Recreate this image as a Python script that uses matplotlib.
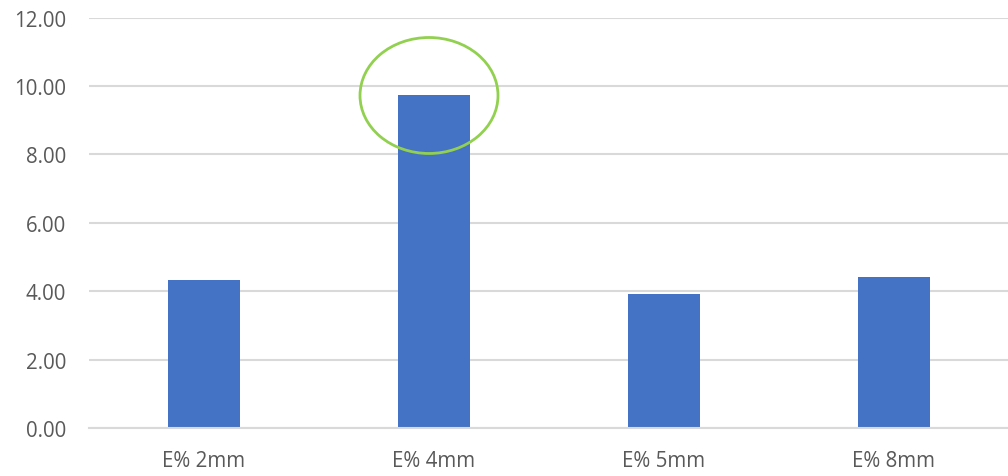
import matplotlib.pyplot as plt
from matplotlib.patches import Ellipse

categories = ["E% 2mm", "E% 4mm", "E% 5mm", "E% 8mm"]
values = [4.32, 9.72, 3.91, 4.41]
yticks = [0, 2, 4, 6, 8, 10, 12]
highlight = 1  # bar circled in green

W, H = 1008, 477
fig = plt.figure(figsize=(W / 100, H / 100), dpi=100)
ax = fig.add_axes([89 / W, (H - 429) / H, 920 / W, (429 - 18.5) / H])

ax.bar(range(len(categories)), values, width=0.313, color="#4472C4", zorder=2)

ax.set_xlim(-0.5, len(categories) - 0.5)
ax.set_ylim(0, 12)
ax.set_yticks(yticks)
ax.set_yticklabels([f"{v:.2f}" for v in yticks])
ax.set_xticks(range(len(categories)))
ax.set_xticklabels(categories)

ax.grid(axis="y", color="#d9d9d9", linewidth=1.5, zorder=0)
for s in ["top", "right", "left"]:
    ax.spines[s].set_visible(False)
ax.spines["bottom"].set_color("#d9d9d9")
ax.spines["bottom"].set_linewidth(1.5)
ax.tick_params(length=0, labelsize=14.8, labelcolor="#595959")
ax.tick_params(axis="x", pad=16)
ax.tick_params(axis="y", pad=16.5)
for lbl in ax.get_xticklabels() + ax.get_yticklabels():
    lbl.set_family("Open Sans")

# green ring around the tallest bar
ax.add_patch(Ellipse((highlight - 5 / 230, values[highlight]), 0.6, 3.39,
                     fill=False, edgecolor="#92D050", linewidth=2,
                     zorder=3, clip_on=False))

fig.savefig("out.png", dpi=100)
